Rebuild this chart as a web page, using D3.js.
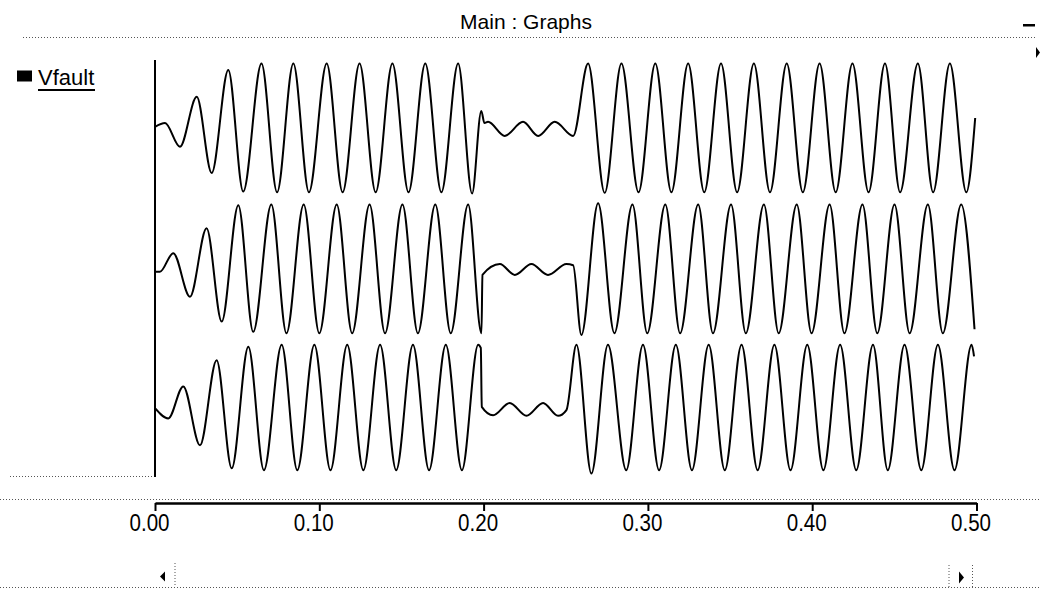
<!DOCTYPE html>
<html>
<head>
<meta charset="utf-8">
<script src="https://cdn.jsdelivr.net/npm/d3@7"></script>
<style>
  html, body { margin: 0; padding: 0; background: #fff; }
  svg { display: block; }
  text { font-family: "Liberation Sans", Arial, sans-serif; fill: #000; }
</style>
</head>
<body>
<svg id="chart" width="1041" height="589"></svg>
<script>
// ---- data (time in s, voltage in p.u.) ----
const chartTitle = "Main : Graphs";
const legendLabel = "Vfault";
const phaseNames = ["A", "B", "C"];
const xTicks = [0.00, 0.10, 0.20, 0.30, 0.40, 0.50];

const phaseA = [
  [0.0000,0.04],[0.0061,0.10],[0.0152,-0.27],[0.0254,0.51],[0.0345,-0.68],[0.0446,0.93],[0.0537,-0.97],
  [0.0648,1.03],[0.0743,-0.98],[0.0842,1.03],[0.0937,-0.98],[0.1045,1.03],[0.1142,-0.98],[0.1245,1.03],
  [0.1343,-0.98],[0.1445,1.03],[0.1543,-0.98],[0.1645,1.03],[0.1743,-0.98],[0.1845,1.03],[0.1930,-1.00],
  [0.1986,0.29],[0.2005,0.10],[0.2027,0.12],[0.2129,-0.10],[0.2240,0.12],[0.2332,-0.10],[0.2433,0.12],
  [0.2545,-0.10],
  [0.2636,1.03],[0.2737,-0.99],[0.2839,1.03],[0.2943,-0.98],[0.3045,1.03],[0.3143,-0.98],[0.3245,1.03],
  [0.3343,-0.98],[0.3445,1.03],[0.3543,-0.98],[0.3645,1.03],[0.3743,-0.98],[0.3845,1.03],[0.3943,-0.98],
  [0.4045,1.03],[0.4143,-0.98],[0.4245,1.03],[0.4343,-0.98],[0.4443,1.03],[0.4535,-0.98],[0.4643,1.03],
  [0.4736,-0.98],[0.4838,1.03],[0.4938,-0.98],[0.4992,0.18]
];

const phaseB = [
  [0.0000,-0.05],[0.0030,-0.05],[0.0111,0.24],[0.0213,-0.44],[0.0314,0.63],[0.0406,-0.83],[0.0507,0.99],
  [0.0598,-0.99],[0.0708,1.00],[0.0800,-1.01],[0.0905,1.00],[0.1000,-1.01],[0.1106,1.00],[0.1200,-1.01],
  [0.1306,1.00],[0.1400,-1.01],[0.1506,1.00],[0.1600,-1.01],[0.1706,1.00],[0.1800,-1.01],[0.1906,1.00],
  [0.1987,-1.01],
  [0.1993,-0.10],[0.2099,0.07],[0.2190,-0.10],[0.2291,0.07],[0.2392,-0.10],[0.2504,0.07],[0.2545,0.05],
  [0.2595,-1.04],
  [0.2697,1.02],[0.2796,-1.01],[0.2906,1.00],[0.2996,-1.01],[0.3106,1.00],[0.3196,-1.01],[0.3306,1.00],
  [0.3396,-1.01],[0.3506,1.00],[0.3596,-1.01],[0.3706,1.00],[0.3796,-1.01],[0.3906,1.00],[0.3996,-1.01],
  [0.4106,1.00],[0.4196,-1.01],[0.4306,1.00],[0.4396,-1.01],[0.4501,1.00],[0.4593,-1.01],[0.4704,1.00],
  [0.4795,-1.01],[0.4907,1.00],[0.4988,-0.95]
];

const phaseC = [
  [0.0000,-0.01],[0.0081,-0.17],[0.0172,0.33],[0.0274,-0.59],[0.0375,0.74],[0.0467,-0.95],[0.0568,0.95],
  [0.0663,-0.98],[0.0771,0.98],[0.0866,-0.98],[0.0970,0.98],[0.1068,-0.98],[0.1170,0.98],[0.1268,-0.98],
  [0.1370,0.98],[0.1468,-0.98],[0.1570,0.98],[0.1668,-0.98],[0.1770,0.98],[0.1868,-0.98],[0.1967,0.98],
  [0.1983,0.93],[0.1989,0.01],[0.2058,-0.12],[0.2159,0.07],[0.2261,-0.13],[0.2362,0.07],[0.2453,-0.13],
  [0.2504,-0.04],
  [0.2565,0.98],[0.2656,-1.03],[0.2757,0.98],[0.2868,-0.98],[0.2970,0.98],[0.3068,-0.98],[0.3170,0.98],
  [0.3268,-0.98],[0.3370,0.98],[0.3468,-0.98],[0.3570,0.98],[0.3668,-0.98],[0.3770,0.98],[0.3868,-0.98],
  [0.3970,0.98],[0.4068,-0.98],[0.4170,0.98],[0.4268,-0.98],[0.4370,0.98],[0.4460,-0.98],[0.4562,0.98],
  [0.4664,-0.98],[0.4765,0.98],[0.4866,-0.98],[0.4970,0.98],[0.4985,0.80]
];

const phaseData = [phaseA, phaseB, phaseC];

// ---- drawing ----
const svg = d3.select("#chart");
svg.append("rect").attr("width", 1041).attr("height", 589).attr("fill", "#fff");

const x = d3.scaleLinear().domain([0, 0.5]).range([155, 976.5]);
const band = d3.scaleBand().domain(phaseNames).range([60, 477]).padding(0);

// title
svg.append("text").attr("x", 526).attr("y", 28.5)
  .attr("text-anchor", "middle").attr("font-size", 21).text(chartTitle);

// window decorations
svg.append("rect").attr("x", 1023).attr("y", 24).attr("width", 12).attr("height", 2.5).attr("fill", "#000");
svg.append("path").attr("d", "M1036,47 L1040,52.5 L1036,58 Z").attr("fill", "#000");

const dotted = (x1, y1, x2, y2) => svg.append("line")
  .attr("x1", x1).attr("y1", y1).attr("x2", x2).attr("y2", y2)
  .attr("stroke", "#555").attr("stroke-width", 1).attr("stroke-dasharray", "1 2");

dotted(23, 37.5, 1036, 37.5);
dotted(10, 476.5, 152, 476.5);
dotted(0, 499.5, 1041, 499.5);
dotted(0, 587.5, 1041, 587.5);

// legend
svg.append("rect").attr("x", 17).attr("y", 70.5).attr("width", 15).attr("height", 11).attr("fill", "#000");
svg.append("text").attr("x", 38).attr("y", 85).attr("font-size", 22).text(legendLabel);
svg.append("line").attr("x1", 38).attr("x2", 95).attr("y1", 90).attr("y2", 90)
  .attr("stroke", "#000").attr("stroke-width", 2);

// left axis line
const [yTop, yBot] = band.range();
svg.append("line").attr("x1", x(0)).attr("x2", x(0)).attr("y1", yTop).attr("y2", yBot)
  .attr("stroke", "#000").attr("stroke-width", 2);

// traces
const amp = 1.086;
phaseNames.forEach((name, i) => {
  const b0 = band(name), bw = band.bandwidth();
  const y = d3.scaleLinear().domain([-amp, amp]).range([b0 + bw, b0]);
  const line = d3.line().x(d => x(d[0])).y(d => y(d[1])).curve(d3.curveMonotoneX);
  svg.append("path").datum(phaseData[i])
    .attr("d", line).attr("fill", "none")
    .attr("stroke", "#000").attr("stroke-width", 2).attr("stroke-linejoin", "round");
});

// bottom axis
const axis = d3.axisBottom(x).tickValues(xTicks).tickFormat(d3.format(".2f"))
  .tickSize(8).tickSizeOuter(0).tickPadding(4);
const gx = svg.append("g").attr("transform", "translate(0,503)").call(axis);
gx.select(".domain").attr("stroke", "#000").attr("stroke-width", 2.5);
gx.selectAll(".tick line").attr("stroke", "#000").attr("stroke-width", 2);
gx.selectAll(".tick text").attr("font-size", 23).attr("dx", -6)
  .attr("textLength", 40).attr("lengthAdjust", "spacingAndGlyphs")
  .attr("font-family", "'Liberation Sans', Arial, sans-serif").attr("fill", "#000");

// scrollbar
svg.append("path").attr("d", "M165,571.5 L160,576.5 L165,581.5 Z").attr("fill", "#000");
dotted(175, 563, 175, 587);
svg.append("path").attr("d", "M959,571.5 L964,577.5 L959,583.5 Z").attr("fill", "#000");
dotted(949, 565, 949, 588);
dotted(972.5, 565, 972.5, 588);
</script>
</body>
</html>
